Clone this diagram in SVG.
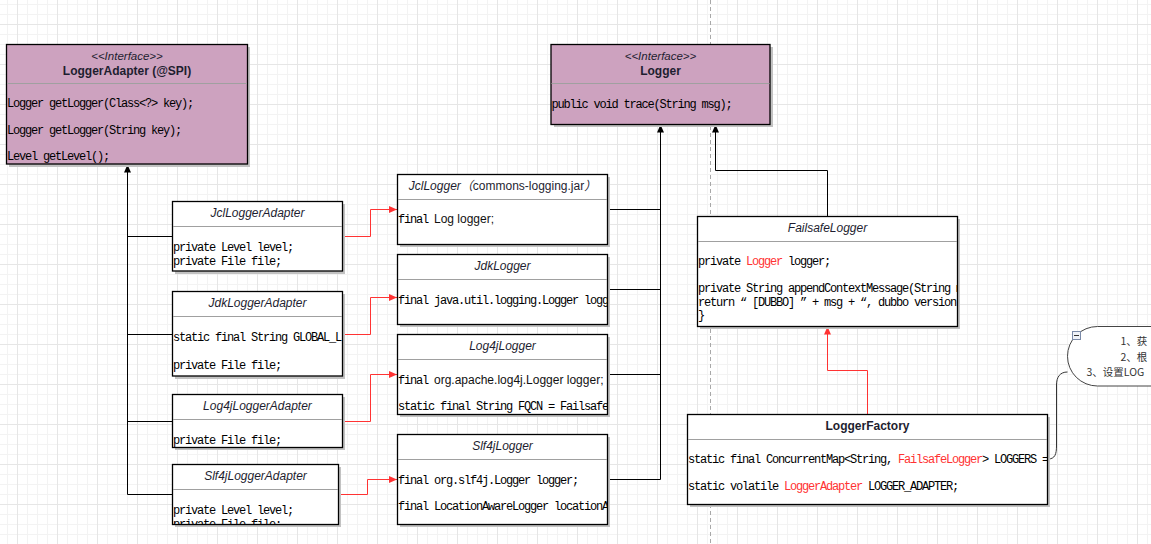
<svg xmlns="http://www.w3.org/2000/svg" width="1151" height="544" viewBox="0 0 1151 544">
<style>
.sh{fill:#c2c2c2}
.box{fill:#fff;stroke:#000;stroke-width:1.3}
.iface{fill:#cda2bf;stroke:#000;stroke-width:1.3}
.dv{stroke:#a0a0a0;stroke-width:1}
.mono{font-family:"Liberation Mono","DejaVu Sans Mono",monospace;font-size:12px;letter-spacing:-1.2px;fill:#000}
.sans{font-family:"Liberation Sans",Arial,sans-serif;font-size:12px;letter-spacing:0;fill:#111}
.ttl{font-family:"Liberation Sans",Arial,sans-serif;font-size:12px;font-style:italic;text-anchor:middle;fill:#1e1e30}
.st{font-family:"Liberation Sans",Arial,sans-serif;font-size:11.5px;font-style:italic;text-anchor:middle;fill:#1e1e30}
.nm{font-family:"Liberation Sans",Arial,sans-serif;font-size:12px;font-weight:bold;text-anchor:middle;fill:#1e1e30}
.red{fill:#ff3333}
.ln{fill:none;stroke:#000;stroke-width:1}
.rln{fill:none;stroke:#ff3333;stroke-width:1}
.cjk{font-family:"Noto Sans CJK SC",sans-serif;font-size:10.5px;fill:#333}
</style>
<defs>
<pattern id="grid" x="17" y="24" width="40" height="40" patternUnits="userSpaceOnUse">
<path d="M10.5,0V40M20.5,0V40M30.5,0V40M0,10.5H40M0,20.5H40M0,30.5H40" stroke="#f3f3f3" stroke-width="1" fill="none"/>
<path d="M0.5,0V40M0,0.5H40" stroke="#e6e6e6" stroke-width="1" fill="none"/>
</pattern>
<marker id="ab" markerUnits="userSpaceOnUse" markerWidth="8" markerHeight="8" refX="8" refY="4" orient="auto">
<path d="M0,0.5L8,4L0,7.5z" fill="#000"/>
</marker>
<marker id="ar" markerUnits="userSpaceOnUse" markerWidth="8" markerHeight="8" refX="8" refY="4" orient="auto">
<path d="M0,0.5L8,4L0,7.5z" fill="#ff3333"/>
</marker>
<clipPath id="cJdkA"><rect x="172" y="292" width="170" height="84"/></clipPath>
<clipPath id="cSlfA"><rect x="172" y="465" width="166" height="59"/></clipPath>
<clipPath id="cJdk"><rect x="397" y="255" width="210" height="69"/></clipPath>
<clipPath id="cLog4j"><rect x="397" y="335" width="210" height="79"/></clipPath>
<clipPath id="cSlf"><rect x="397" y="435" width="210" height="89"/></clipPath>
<clipPath id="cFs"><rect x="697" y="217" width="260" height="109"/></clipPath>
<clipPath id="cLf"><rect x="687" y="415" width="360" height="89"/></clipPath>
</defs>

<rect x="0" y="0" width="1151" height="544" fill="#fff"/>
<rect x="0" y="0" width="1151" height="544" fill="url(#grid)"/>
<line x1="710.5" y1="0" x2="710.5" y2="544" stroke="#a8a8a8" stroke-width="1" stroke-dasharray="4,3"/>

<g id="connectors">
<path class="ln" d="M127.5,494.5V164.5" marker-end="url(#ab)"/>
<path class="ln" d="M127.5,236.5H172M127.5,334.5H172M127.5,421.5H172M127.5,494.5H172"/>
<path class="rln" d="M342,236.5H370.5V209.5H397" marker-end="url(#ar)"/>
<path class="rln" d="M342,334.5H370.5V297.5H397" marker-end="url(#ar)"/>
<path class="rln" d="M342,421.5H370.5V374.5H397" marker-end="url(#ar)"/>
<path class="rln" d="M338,494.5H367.5V479.5H397" marker-end="url(#ar)"/>
<path class="ln" d="M660.5,479.5V124.5" marker-end="url(#ab)"/>
<path class="ln" d="M607.5,209.5H660.5M607.5,289.5H660.5M607.5,374.5H660.5M607.5,479.5H660.5"/>
<path class="ln" d="M827.5,216.5V170.5H715.5V124.5" marker-end="url(#ab)"/>
<path class="rln" d="M867.5,414.5V370.5H827.5V326.5" marker-end="url(#ar)"/>
<path fill="none" stroke="#333" stroke-width="1" d="M1048,459C1055,459 1056.5,454 1056.5,446V385C1056.5,377 1060,372 1067.5,372"/>
</g>

<g id="LoggerAdapter">
<rect class="sh" x="9" y="47" width="241" height="120"/>
<rect class="iface" x="6.5" y="44.5" width="241" height="119.5"/>
<text class="st" x="127" y="60">&lt;&lt;Interface&gt;&gt;</text>
<text class="nm" x="127" y="75">LoggerAdapter (@SPI)</text>
<line class="dv" x1="7" y1="83.5" x2="247" y2="83.5"/>
<text class="mono" x="7" y="107">Logger getLogger(Class&lt;?&gt; key);</text>
<text class="mono" x="7" y="134">Logger getLogger(String key);</text>
<text class="mono" x="7" y="160">Level getLevel();</text>
</g>

<g id="Logger">
<rect class="sh" x="554" y="47" width="219" height="80"/>
<rect class="iface" x="551" y="44.5" width="219" height="80"/>
<text class="st" x="660.5" y="60">&lt;&lt;Interface&gt;&gt;</text>
<text class="nm" x="660.5" y="74.5">Logger</text>
<line class="dv" x1="551.5" y1="83.5" x2="769.5" y2="83.5"/>
<text class="mono" x="551.5" y="108">public void trace(String msg);</text>
</g>

<g id="JclLoggerAdapter">
<rect class="sh" x="175" y="204" width="170" height="70"/>
<rect class="box" x="172.5" y="201.5" width="170" height="69.5"/>
<text class="ttl" x="257.5" y="217">JclLoggerAdapter</text>
<line class="dv" x1="173" y1="226.5" x2="342" y2="226.5"/>
<text class="mono" x="173" y="251">private Level level;</text>
<text class="mono" x="173" y="265">private File file;</text>
</g>

<g id="JdkLoggerAdapter">
<rect class="sh" x="175" y="294" width="170" height="85"/>
<rect class="box" x="172.5" y="291.5" width="170" height="84.5"/>
<line class="dv" x1="173" y1="316.5" x2="342" y2="316.5"/>
<text class="ttl" x="257.5" y="307">JdkLoggerAdapter</text>
<g clip-path="url(#cJdkA)">
<text class="mono" x="173" y="341">static final String GLOBAL_L</text>
<text class="mono" x="173" y="368.5">private File file;</text>
</g>
</g>

<g id="Log4jLoggerAdapter">
<rect class="sh" x="175" y="397" width="170" height="53"/>
<rect class="box" x="172.5" y="394.5" width="170" height="53"/>
<text class="ttl" x="257.5" y="410">Log4jLoggerAdapter</text>
<line class="dv" x1="173" y1="419.5" x2="342" y2="419.5"/>
<text class="mono" x="173" y="444">private File file;</text>
</g>

<g id="Slf4jLoggerAdapter">
<rect class="sh" x="175" y="467" width="166" height="60"/>
<rect class="box" x="172.5" y="464.5" width="166" height="60"/>
<text class="ttl" x="255.5" y="480">Slf4jLoggerAdapter</text>
<line class="dv" x1="173" y1="489.5" x2="338" y2="489.5"/>
<g clip-path="url(#cSlfA)">
<text class="mono" x="173" y="513.5">private Level level;</text>
<text class="mono" x="173" y="527.5">private File file;</text>
</g>
</g>

<g id="JclLogger">
<rect class="sh" x="400" y="177" width="210" height="70"/>
<rect class="box" x="397.5" y="174.5" width="210" height="70"/>
<text class="ttl" x="502.5" y="190">JclLogger<tspan font-family="'Noto Sans CJK SC',sans-serif">（</tspan><tspan font-style="normal">commons-logging.jar</tspan><tspan font-family="'Noto Sans CJK SC',sans-serif">）</tspan></text>
<line class="dv" x1="398" y1="199.5" x2="607" y2="199.5"/>
<text class="mono" x="398" y="223">final</text>
<text class="sans" x="434" y="223">Log logger;</text>
</g>

<g id="JdkLogger">
<rect class="sh" x="400" y="257" width="210" height="70"/>
<rect class="box" x="397.5" y="254.5" width="210" height="70"/>
<text class="ttl" x="502.5" y="270">JdkLogger</text>
<line class="dv" x1="398" y1="279.5" x2="607" y2="279.5"/>
<g clip-path="url(#cJdk)">
<text class="mono" x="398" y="304">final java.util.logging.Logger logg</text>
</g>
</g>

<g id="Log4jLogger">
<rect class="sh" x="400" y="337" width="210" height="80"/>
<rect class="box" x="397.5" y="334.5" width="210" height="80"/>
<text class="ttl" x="502.5" y="350">Log4jLogger</text>
<line class="dv" x1="398" y1="359.5" x2="607" y2="359.5"/>
<g clip-path="url(#cLog4j)">
<text class="mono" x="398" y="383.5">final</text>
<text class="sans" x="434" y="383.5">org.apache.log4j.Logger logger;</text>
<text class="mono" x="398" y="410">static final String FQCN = Failsafe</text>
</g>
</g>

<g id="Slf4jLogger">
<rect class="sh" x="400" y="437" width="210" height="90"/>
<rect class="box" x="397.5" y="434.5" width="210" height="90"/>
<text class="ttl" x="502.5" y="450">Slf4jLogger</text>
<line class="dv" x1="398" y1="459.5" x2="607" y2="459.5"/>
<g clip-path="url(#cSlf)">
<text class="mono" x="398" y="484">final org.slf4j.Logger logger;</text>
<text class="mono" x="398" y="510">final LocationAwareLogger locationA</text>
</g>
</g>

<g id="FailsafeLogger">
<rect class="sh" x="700" y="219" width="260" height="110"/>
<rect class="box" x="697.5" y="216.5" width="260" height="110"/>
<text class="ttl" x="827.5" y="232">FailsafeLogger</text>
<line class="dv" x1="698" y1="241.5" x2="957" y2="241.5"/>
<g clip-path="url(#cFs)">
<text class="mono" x="698" y="265">private <tspan class="red">Logger</tspan> logger;</text>
<text class="mono" x="698" y="292">private String appendContextMessage(String m</text>
<text class="mono" x="698" y="306">return “ [DUBBO] ” + msg + “, dubbo version</text>
<text class="mono" x="698" y="318.5">}</text>
</g>
</g>

<g id="LoggerFactory">
<rect class="sh" x="690" y="417" width="360" height="90"/>
<rect class="box" x="687.5" y="414.5" width="360" height="90"/>
<text class="nm" x="867.5" y="430">LoggerFactory</text>
<line class="dv" x1="688" y1="439.5" x2="1047" y2="439.5"/>
<g clip-path="url(#cLf)">
<text class="mono" x="688" y="463">static final ConcurrentMap&lt;String, <tspan class="red">FailsafeLogger</tspan>&gt; LOGGERS =</text>
<text class="mono" x="688" y="490">static volatile <tspan class="red">LoggerAdapter</tspan> LOGGER_ADAPTER;</text>
</g>
</g>

<g id="Note">
<rect x="1067.5" y="326.5" width="200" height="59.5" rx="30" ry="29.75" fill="#fff" stroke="#444" stroke-width="1"/>
<rect x="1072.5" y="331.5" width="8" height="8" fill="#eef2f8" stroke="#7a8aa8" stroke-width="1"/>
<line x1="1074" y1="335.5" x2="1079" y2="335.5" stroke="#333" stroke-width="1"/>
<text class="cjk" x="1120.5" y="345">1、获</text>
<text class="cjk" x="1120.5" y="360.5">2、根</text>
<text class="cjk" x="1086.5" y="376">3、设置LOG</text>
</g>
</svg>
